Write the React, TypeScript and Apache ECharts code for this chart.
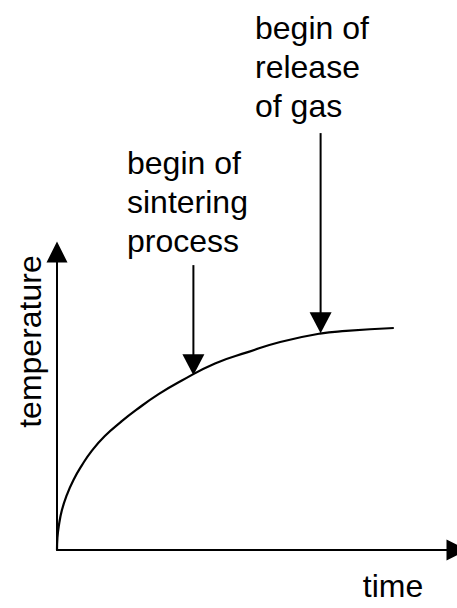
import React, { useEffect, useRef } from "react";
import * as echarts from "echarts";

// Curve (arbitrary units, 0..100 on both axes)
const timeValues = [0, 0.1, 0.42, 1.23, 2.47, 4.12, 6.17, 8.64, 11.9, 16.0, 19.8, 25.4, 31.1, 39.5, 47.7, 55.8, 65.7, 72.3, 84.2];
const temperatureValues = [0, 4.0, 7.8, 13.4, 18.5, 23.5, 28.3, 33.2, 38.2, 43.0, 47.0, 52.3, 56.8, 62.6, 66.4, 69.8, 72.6, 73.5, 74.5];

// Annotations (arrows pointing down to the curve)
const annotationLabels = ["begin of\nsintering\nprocess", "begin of\nrelease\nof gas"];
const annotationTime = [34.1, 65.9];
const annotationTipTemp = [58.6, 72.7];
const annotationTailTemp = [95.6, 139.9];

const xAxisName = "time";
const yAxisName = "temperature";

const FONT = "'Liberation Sans', Arial, Helvetica, sans-serif";
const INK = "#000";

export default function App() {
  const ref = useRef<HTMLDivElement>(null);

  useEffect(() => {
    if (!ref.current) return;
    const chart = echarts.init(ref.current, undefined, { renderer: "svg" });

    const axisLineBase = {
      show: true,
      onZero: false,
      lineStyle: { color: INK, width: 2 },
      symbol: ["none", "triangle"],
      symbolSize: [21, 21],
      symbolOffset: [0, 0],
    };

    chart.setOption({
      animation: false,
      backgroundColor: "#fff",
      grid: { left: 57, right: -5, top: 252, bottom: 58, containLabel: false },
      xAxis: {
        type: "value",
        min: 0,
        max: 100,
        axisLine: axisLineBase,
        axisTick: { show: false },
        axisLabel: { show: false },
        splitLine: { show: false },
      },
      yAxis: {
        type: "value",
        min: 0,
        max: 100,
        axisLine: axisLineBase,
        axisTick: { show: false },
        axisLabel: { show: false },
        splitLine: { show: false },
      },
      series: [
        {
          type: "line",
          data: timeValues.map((t, i) => [t, temperatureValues[i]]),
          smooth: 0.5,
          showSymbol: false,
          symbol: "none",
          lineStyle: { color: INK, width: 2.2 },
          clip: false,
        },
      ],
    });

    const labelPos = [
      [127, 143.5],
      [255, 8.5],
    ];

    const elements: any[] = [];
    annotationTime.forEach((t, i) => {
      const tip = chart.convertToPixel({ gridIndex: 0 }, [t, annotationTipTemp[i]]) as number[];
      const tail = chart.convertToPixel({ gridIndex: 0 }, [t, annotationTailTemp[i]]) as number[];
      const x = tip[0];
      const headH = 21;
      const headW = 22;
      elements.push({
        type: "line",
        shape: { x1: x, y1: tail[1], x2: x, y2: tip[1] - headH + 2 },
        style: { stroke: INK, lineWidth: 2 },
        silent: true,
      });
      elements.push({
        type: "polygon",
        shape: {
          points: [
            [x - headW / 2, tip[1] - headH],
            [x + headW / 2, tip[1] - headH],
            [x, tip[1]],
          ],
        },
        style: { fill: INK },
        silent: true,
      });
      elements.push({
        type: "text",
        x: labelPos[i][0],
        y: labelPos[i][1],
        style: {
          text: annotationLabels[i],
          fontSize: 32,
          fontFamily: FONT,
          lineHeight: 39,
          fill: INK,
          align: "left",
          verticalAlign: "top",
        },
        silent: true,
      });
    });

    elements.push({
      type: "text",
      x: 30.4,
      y: 341.5,
      rotation: Math.PI / 2,
      style: {
        text: yAxisName,
        fontSize: 32,
        fontFamily: FONT,
        fill: INK,
        align: "center",
        verticalAlign: "middle",
      },
      silent: true,
    });
    elements.push({
      type: "text",
      x: 393,
      y: 586,
      style: {
        text: xAxisName,
        fontSize: 32,
        fontFamily: FONT,
        fill: INK,
        align: "center",
        verticalAlign: "middle",
      },
      silent: true,
    });

    chart.setOption({ graphic: elements });

    return () => chart.dispose();
  }, []);

  return (
    <div
      ref={ref}
      style={{ position: "fixed", left: 0, top: 0, width: 457, height: 608, background: "#fff" }}
    />
  );
}
